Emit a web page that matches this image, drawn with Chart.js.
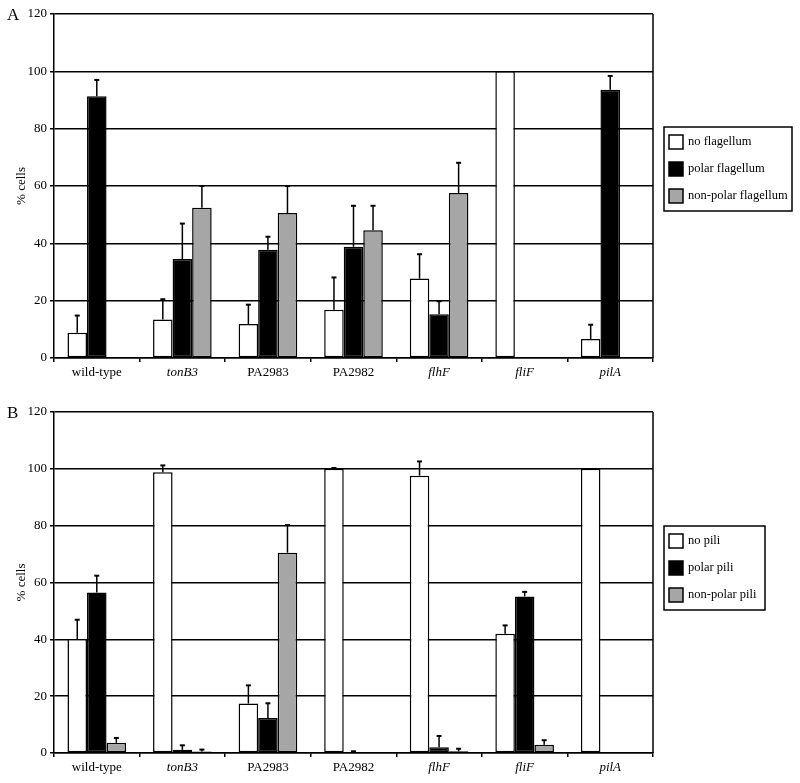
<!DOCTYPE html>
<html>
<head>
<meta charset="utf-8">
<script src="https://cdn.jsdelivr.net/npm/chart.js@4/dist/chart.umd.min.js"></script>
<style>
  body { margin: 0; background: #fff; }
  .panel { position: absolute; left: 0; width: 800px; }
  .letra { position: absolute; font: 17px "Liberation Serif", serif; color: #000; }
</style>
</head>
<body>
<div class="panel" style="top:0;height:390px"><canvas id="graficoA" width="800" height="390"></canvas></div>
<div class="panel" style="top:390px;height:393px"><canvas id="graficoB" width="800" height="393"></canvas></div>
<div class="letra" style="left:7px;top:5px">A</div>
<div class="letra" style="left:7px;top:403px">B</div>
<script>
const categorias = ['wild-type', 'tonB3', 'PA2983', 'PA2982', 'flhF', 'fliF', 'pilA'];
const enCursiva = [false, true, false, false, true, true, true];

// Panel A: flagelos
const etiquetasA = ['no flagellum', 'polar flagellum', 'non-polar flagellum'];
const sinFlagelo = [8.8, 13.4, 11.9, 16.8, 27.7, 100, 6.6];
const sinFlageloErr = [6.0, 7.1, 6.7, 11.3, 8.5, 0, 5.0];
const flageloPolar = [91.3, 34.5, 37.8, 38.8, 15.3, 0, 93.6];
const flageloPolarErr = [5.7, 12.4, 4.5, 14.3, 4.5, 0, 4.8];
const flageloNoPolar = [0, 52.4, 50.6, 44.6, 57.6, 0, 0];
const flageloNoPolarErr = [0, 7.6, 9.4, 8.5, 10.5, 0, 0];

// Panel B: pili
const etiquetasB = ['no pili', 'polar pili', 'non-polar pili'];
const sinPili = [40.1, 98.8, 17.4, 100, 97.6, 42.0, 100];
const sinPiliErr = [6.8, 2.4, 6.4, 0.3, 5.0, 2.9, 0];
const piliPolar = [56.5, 1.1, 12.3, 0.2, 2.0, 55.1, 0];
const piliPolarErr = [5.9, 1.6, 5.2, 0.4, 4.0, 1.6, 0];
const piliNoPolar = [3.6, 0.5, 70.5, 0, 0.6, 2.9, 0];
const piliNoPolarErr = [1.7, 0.7, 9.7, 0, 0.9, 1.6, 0];

const colores = ['#ffffff', '#000000', '#a6a6a6'];
const fuente = '"Liberation Serif", "Times New Roman", serif';

// barras de error (solo hacia arriba) y borde derecho
const pluginErrores = {
  id: 'errores',
  afterDatasetsDraw(chart) {
    const ctx = chart.ctx;
    const y = chart.scales.y;
    ctx.save();
    ctx.strokeStyle = '#000';
    ctx.lineWidth = 1.5;
    chart.data.datasets.forEach((ds, i) => {
      const meta = chart.getDatasetMeta(i);
      meta.data.forEach((bar, j) => {
        const e = ds.errores[j];
        if (!e) return;
        const yTop = y.getPixelForValue(ds.data[j] + e);
        ctx.beginPath();
        ctx.moveTo(bar.x, bar.y);
        ctx.lineTo(bar.x, yTop);
        ctx.stroke();
        ctx.lineWidth = 2;
        ctx.beginPath();
        ctx.moveTo(bar.x - 2.5, yTop);
        ctx.lineTo(bar.x + 2.5, yTop);
        ctx.stroke();
        ctx.lineWidth = 1.5;
      });
    });
    const a = chart.chartArea;
    ctx.beginPath();
    ctx.moveTo(a.right, a.top);
    ctx.lineTo(a.right, a.bottom);
    ctx.stroke();
    ctx.restore();
  }
};

const pluginLeyenda = {
  id: 'leyenda',
  afterDraw(chart, args, opts) {
    const ctx = chart.ctx;
    ctx.save();
    ctx.lineWidth = 1.5;
    ctx.strokeStyle = '#000';
    ctx.strokeRect(opts.x, opts.y, opts.w, opts.h);
    ctx.font = '12.5px ' + fuente;
    ctx.textBaseline = 'middle';
    chart.data.datasets.forEach((ds, i) => {
      const cy = opts.y + 15 + i * 27;
      ctx.fillStyle = ds.backgroundColor;
      ctx.fillRect(opts.x + 5, cy - 7, 14, 14);
      ctx.strokeRect(opts.x + 5, cy - 7, 14, 14);
      ctx.fillStyle = '#000';
      ctx.fillText(ds.label, opts.x + 24, cy);
    });
    ctx.restore();
  }
};

function crearGrafica(id, etiquetas, valores, errores, arriba, abajo, leyenda) {
  const datasets = etiquetas.map((et, i) => ({
    label: et,
    data: valores[i],
    errores: errores[i],
    backgroundColor: colores[i],
    borderColor: '#000',
    borderWidth: 1.5,
    borderSkipped: false,
    barPercentage: 1,
    categoryPercentage: 0.685
  }));

  return new Chart(document.getElementById(id).getContext('2d'), {
    type: 'bar',
    data: { labels: categorias, datasets },
    options: {
      responsive: false,
      animation: false,
      layout: { padding: { top: arriba, right: 147, left: 0, bottom: 0 } },
      plugins: {
        legend: { display: false },
        tooltip: { enabled: false },
        leyenda: leyenda
      },
      scales: {
        x: {
          afterFit: (s) => { s.height = abajo; },
          grid: { drawOnChartArea: false, color: '#000', tickLength: 4, lineWidth: 1.5 },
          border: { color: '#000', width: 1.5 },
          ticks: {
            color: '#000',
            padding: 3,
            font: (c) => ({ family: fuente, size: 13, style: enCursiva[c.index] ? 'italic' : 'normal' })
          }
        },
        y: {
          min: 0,
          max: 120,
          afterFit: (s) => { s.width = 54; },
          ticks: { stepSize: 20, color: '#000', padding: 3, font: { family: fuente, size: 13 } },
          grid: { color: '#000', lineWidth: 1.5, tickLength: 4 },
          border: { color: '#000', width: 1.5 },
          title: { display: true, text: '% cells', color: '#000', font: { family: fuente, size: 13 }, padding: { top: 14, bottom: 0 } }
        }
      }
    },
    plugins: [pluginErrores, pluginLeyenda]
  });
}

crearGrafica('graficoA', etiquetasA,
  [sinFlagelo, flageloPolar, flageloNoPolar],
  [sinFlageloErr, flageloPolarErr, flageloNoPolarErr],
  14, 32, { x: 664, y: 127, w: 128, h: 84 });

crearGrafica('graficoB', etiquetasB,
  [sinPili, piliPolar, piliNoPolar],
  [sinPiliErr, piliPolarErr, piliNoPolarErr],
  22, 30, { x: 664, y: 136, w: 101, h: 84 });
</script>
</body>
</html>
